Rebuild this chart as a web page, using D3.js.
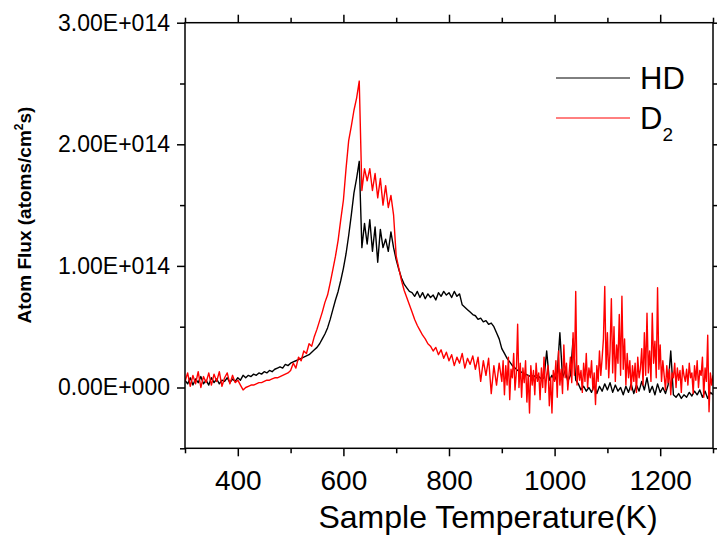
<!DOCTYPE html>
<html>
<head>
<meta charset="utf-8">
<script src="https://cdn.jsdelivr.net/npm/d3@7"></script>
<style>
  body { margin: 0; background: #fff; }
  svg { display: block; font-family: Arial, "Liberation Sans", sans-serif; }
</style>
</head>
<body>
<svg id="chart"></svg>
<script>
// sample temperature grid (K): first reading and spacing between readings
const tempStart = 300;
const tempStep = 5;

// HD flux in units of 1E+014 atoms/cm2s, one reading per 5 K (rows of 50 K)
const fluxHD = [
  0.06, 0.03, 0.08, 0.02, 0.07, 0.04, 0.09, 0.03, 0.06, 0.02,   // 300
  0.08, 0.04, 0.07, 0.03, 0.06, 0.05, 0.08, 0.04, 0.07, 0.05,   // 350
  0.08, 0.06, 0.10, 0.08, 0.10, 0.09, 0.11, 0.10, 0.12, 0.11,   // 400
  0.13, 0.12, 0.14, 0.13, 0.15, 0.16, 0.17, 0.16, 0.19, 0.18,   // 450
  0.20, 0.21, 0.22, 0.23, 0.24, 0.25, 0.26, 0.27, 0.29, 0.31,   // 500
  0.33, 0.36, 0.40, 0.44, 0.49, 0.56, 0.64, 0.72, 0.79, 0.88,   // 550
  0.98, 1.10, 1.25, 1.42, 1.60, 1.72, 1.86, 1.15, 1.35, 1.18,   // 600
  1.38, 1.12, 1.32, 1.03, 1.30, 1.15, 1.22, 1.12, 1.28, 1.15,   // 650
  1.05, 0.97, 0.90, 0.85, 0.82, 0.79, 0.78, 0.75, 0.79, 0.74,   // 700
  0.78, 0.73, 0.77, 0.74, 0.76, 0.72, 0.78, 0.75, 0.79, 0.76,   // 750
  0.78, 0.74, 0.79, 0.75, 0.77, 0.68, 0.66, 0.64, 0.62, 0.60,   // 800
  0.59, 0.56, 0.57, 0.54, 0.55, 0.52, 0.53, 0.50, 0.45, 0.40,   // 850
  0.32, 0.28, 0.24, 0.21, 0.18, 0.16, 0.14, 0.13, 0.12, 0.11,   // 900
  0.10, 0.09, 0.10, 0.08, 0.09, 0.07, 0.08, 0.30, 0.06, 0.10,   // 950
  0.06, 0.12, 0.45, 0.08, 0.14, 0.05, 0.10, 0.40, 0.06, 0.03,   // 1000
  -0.02, 0.01, -0.03, 0.00, -0.04, 0.02, -0.05, 0.01, -0.03, 0.03,   // 1050
  -0.02, 0.04, -0.04, 0.02, -0.03, 0.00, -0.06, 0.01, -0.04, 0.03,   // 1100
  -0.05, 0.02, -0.03, 0.05, -0.02, 0.08, -0.04, 0.01, -0.06, 0.03,   // 1150
  -0.04, 0.00, -0.05, 0.02, 0.30, -0.06, -0.08, -0.05, -0.09, -0.06, // 1200
  -0.08, -0.04, -0.07, -0.03, -0.06, -0.02, -0.08, -0.03, -0.09, -0.04, // 1250
  -0.06                                                          // 1300
];

// D2 flux, same 5 K grid from 300 K up to 895 K
const fluxD2 = [
  0.05, 0.12, 0.01, 0.10, 0.03, 0.13, 0.00, 0.09, 0.04, 0.12,   // 300
  0.02, 0.11, 0.05, 0.13, 0.01, 0.08, 0.12, 0.03, 0.10, 0.04,   // 350
  0.06, 0.02, -0.02, 0.00, 0.01, 0.02, 0.02, 0.03, 0.04, 0.04,  // 400
  0.05, 0.06, 0.06, 0.07, 0.08, 0.08, 0.09, 0.10, 0.11, 0.12,   // 450
  0.14, 0.20, 0.16, 0.25, 0.22, 0.30, 0.28, 0.36, 0.34, 0.42,   // 500
  0.48, 0.55, 0.62, 0.70, 0.76, 0.86, 0.97, 1.08, 1.21, 1.38,   // 550
  1.54, 1.80, 2.03, 2.15, 2.28, 2.38, 2.52, 1.62, 1.80, 1.70,   // 600
  1.80, 1.62, 1.76, 1.56, 1.72, 1.50, 1.66, 1.48, 1.58, 1.42,   // 650
  1.08, 0.98, 0.88, 0.80, 0.74, 0.68, 0.62, 0.56, 0.51, 0.47,   // 700
  0.43, 0.40, 0.36, 0.34, 0.30, 0.33, 0.27, 0.31, 0.24, 0.29,   // 750
  0.22, 0.27, 0.18, 0.25, 0.20, 0.28, 0.16, 0.24, 0.19, 0.26,   // 800
  0.15, 0.25, 0.05, 0.22, 0.10, 0.24, -0.05, 0.18, 0.02, 0.20   // 850
];

// D2 noisy tail, read every 2.5 K from 900 K (rows of 50 K)
const tailStart = 900;
const tailStep = 2.5;
const fluxD2Tail = [
  0.05, 0.22, -0.06, 0.18, 0.02, 0.25, -0.10, 0.15, 0.08, 0.28, -0.02, 0.12, 0.52, 0.00, 0.20, -0.08, 0.16, 0.04, 0.22, -0.12, // 900
  0.10, -0.21, 0.18, 0.02, 0.14, -0.06, 0.20, 0.05, 0.12, -0.10, 0.16, 0.00, 0.25, -0.04, 0.10, 0.18, -0.15, 0.08, -0.21, 0.14, // 950
  0.05, 0.22, -0.08, 0.30, 0.02, 0.15, -0.05, 0.35, 0.08, 0.20, -0.02, 0.12, 0.25, 0.04, 0.45, 0.10, 0.79, 0.02, 0.18, 0.06,  // 1000
  0.14, -0.04, 0.20, 0.05, 0.28, 0.00, 0.16, 0.08, 0.22, -0.02, 0.12, -0.14, 0.18, 0.05, 0.30, 0.10, 0.24, 0.40, 0.83, 0.15, // 1050
  0.45, 0.08, 0.30, 0.73, 0.12, 0.50, 0.05, 0.35, 0.20, 0.60, 0.10, 0.75, 0.15, 0.40, 0.02, 0.28, 0.08, 0.22, -0.02, 0.18,  // 1100
  0.05, 0.20, -0.04, 0.25, 0.08, 0.15, 0.32, 0.02, 0.45, 0.10, 0.61, 0.12, 0.30, 0.05, 0.61, 0.20, 0.38, 0.08, 0.82, 0.15,  // 1150
  0.35, 0.05, 0.22, 0.10, -0.02, 0.18, 0.04, 0.15, -0.06, 0.12, 0.08, 0.20, 0.00, 0.16, 0.06, 0.14, -0.04, 0.18, 0.10, 0.05, // 1200
  0.15, 0.02, 0.20, 0.08, 0.12, -0.05, 0.18, 0.06, 0.22, 0.00, 0.14, 0.10, 0.25, -0.08, 0.16, 0.05, 0.43, -0.20, 0.12, 0.02, // 1250
  0.10                                                                                                                          // 1300
];

const xTicks = [400, 600, 800, 1000, 1200];
const xMinorTicks = [300, 500, 700, 900, 1100, 1300];
const yTicks = [0, 1, 2, 3];
const yMinorTicks = [-0.5, 0.5, 1.5, 2.5];
const yTickLabels = ['0.00E+000', '1.00E+014', '2.00E+014', '3.00E+014'];

const W = 717, H = 543;
const margin = { top: 22.7, right: 4, bottom: 94.7, left: 185 };
const width = W - margin.left - margin.right;
const height = H - margin.top - margin.bottom;

const svg = d3.select('#chart').attr('width', W).attr('height', H);
const g = svg.append('g').attr('transform', `translate(${margin.left},${margin.top})`);

const x = d3.scaleLinear().domain([300, 1300]).range([0, width]);
const y = d3.scaleLinear().domain([-0.5, 3]).range([height, 0]);

// [temperature, flux] pairs
const hdPoints = fluxHD.map((v, i) => [tempStart + i * tempStep, v]);
const d2Points = fluxD2.map((v, i) => [tempStart + i * tempStep, v])
  .concat(fluxD2Tail.map((v, i) => [tailStart + i * tailStep, v]));

// clip traces to the frame
g.append('clipPath').attr('id', 'plot-clip')
  .append('rect').attr('width', width).attr('height', height);

const line = d3.line()
  .x(d => x(d[0]))
  .y(d => y(d[1]));

const traces = g.append('g').attr('clip-path', 'url(#plot-clip)');
traces.append('path').datum(hdPoints)
  .attr('fill', 'none').attr('stroke', '#000').attr('stroke-width', 1.4)
  .attr('stroke-linejoin', 'round')
  .attr('d', line);
traces.append('path').datum(d2Points)
  .attr('fill', 'none').attr('stroke', '#ff0000').attr('stroke-width', 1.4)
  .attr('stroke-linejoin', 'round')
  .attr('d', line);

// axes: major + minor ticks on all four sides, labels only left/bottom
function styleAxis(sel) {
  sel.select('.domain').remove();
  sel.selectAll('line').attr('stroke', '#000').attr('stroke-width', 1.5);
}

g.append('g')
  .call(d3.axisLeft(y).tickValues(yTicks).tickSize(8).tickPadding(7)
    .tickFormat((d, i) => yTickLabels[i]))
  .call(styleAxis)
  .selectAll('text').attr('font-size', 23).attr('fill', '#000')
  .attr('font-family', 'Arial, "Liberation Sans", sans-serif');
g.append('g')
  .call(d3.axisLeft(y).tickValues(yMinorTicks).tickSize(5).tickFormat(''))
  .call(styleAxis);
g.append('g').attr('transform', `translate(${width},0)`)
  .call(d3.axisRight(y).tickValues(yTicks).tickSize(8).tickFormat(''))
  .call(styleAxis);
g.append('g').attr('transform', `translate(${width},0)`)
  .call(d3.axisRight(y).tickValues(yMinorTicks).tickSize(5).tickFormat(''))
  .call(styleAxis);

g.append('g').attr('transform', `translate(0,${height})`)
  .call(d3.axisBottom(x).tickValues(xTicks).tickSize(8).tickPadding(14)
    .tickFormat(d3.format('d')))
  .call(styleAxis)
  .selectAll('text').attr('font-size', 28).attr('fill', '#000')
  .attr('font-family', 'Arial, "Liberation Sans", sans-serif');
g.append('g').attr('transform', `translate(0,${height})`)
  .call(d3.axisBottom(x).tickValues(xMinorTicks).tickSize(5).tickFormat(''))
  .call(styleAxis);
g.append('g')
  .call(d3.axisTop(x).tickValues(xTicks).tickSize(8).tickFormat(''))
  .call(styleAxis);
g.append('g')
  .call(d3.axisTop(x).tickValues(xMinorTicks).tickSize(5).tickFormat(''))
  .call(styleAxis);

// frame
g.append('rect')
  .attr('width', width).attr('height', height)
  .attr('fill', 'none').attr('stroke', '#000').attr('stroke-width', 1.5);

// axis titles
svg.append('text')
  .attr('x', 488).attr('y', 528)
  .attr('text-anchor', 'middle').attr('font-size', 32)
  .text('Sample Temperature(K)');

const yTitle = svg.append('text')
  .attr('transform', 'translate(31,215) rotate(-90)')
  .attr('text-anchor', 'middle').attr('font-size', 19).attr('font-weight', 'bold');
yTitle.append('tspan').text('Atom Flux (atoms/cm');
yTitle.append('tspan').attr('font-size', 12).attr('dy', -8).text('2');
yTitle.append('tspan').attr('dy', 8).text('s)');

// legend
const legend = svg.append('g');
legend.append('line').attr('x1', 556).attr('x2', 630).attr('y1', 78).attr('y2', 78)
  .attr('stroke', '#000').attr('stroke-width', 1);
legend.append('text').attr('x', 640).attr('y', 89).attr('font-size', 31).text('HD');
legend.append('line').attr('x1', 556).attr('x2', 630).attr('y1', 118).attr('y2', 118)
  .attr('stroke', '#ff0000').attr('stroke-width', 1);
const d2Label = legend.append('text').attr('x', 640).attr('y', 129).attr('font-size', 31);
d2Label.append('tspan').text('D');
d2Label.append('tspan').attr('font-size', 19).attr('dy', 12).text('2');
</script>
</body>
</html>
